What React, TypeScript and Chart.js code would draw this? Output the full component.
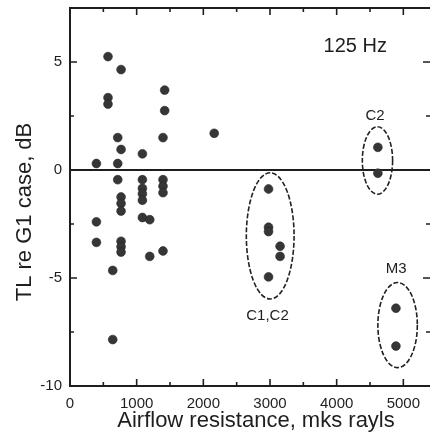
import React, { useEffect, useRef } from 'react';
import { Chart, registerables } from 'chart.js';

Chart.register(...registerables);

// ---- data (x: airflow resistance in mks rayls, y: TL re G1 case in dB) ----
const mainX = [570, 766, 570, 570, 1420, 1420, 716, 1395, 766, 1086, 396, 716, 2163,
  716, 1086, 1086, 1086, 1086, 1395, 1395, 1395, 766, 766, 766, 1086, 1196, 396, 396,
  766, 766, 766, 1196, 1395, 641, 641];
const mainY = [5.25, 4.65, 3.35, 3.05, 3.7, 2.75, 1.5, 1.5, 0.95, 0.75, 0.3, 0.3, 1.7,
  -0.45, -0.45, -0.85, -1.1, -1.4, -0.45, -0.75, -1.05, -1.25, -1.55, -1.9, -2.2, -2.3, -2.4, -3.35,
  -3.3, -3.55, -3.8, -4.0, -3.75, -4.65, -7.85];

const c1c2X = [2978, 2978, 2978, 3151, 3151, 2978];
const c1c2Y = [-0.88, -2.65, -2.85, -3.53, -4.0, -4.95];

const c2X = [4618, 4618];
const c2Y = [1.05, -0.15];

const m3X = [4889, 4889];
const m3Y = [-6.4, -8.15];

// dashed ellipses around groups (centre and radii in data units)
const ellipseCx = [3003, 4612, 4914];
const ellipseCy = [-3.05, 0.44, -7.18];
const ellipseRx = [358, 227, 296];
const ellipseRy = [2.92, 1.56, 1.97];

// annotation labels (anchored in data units)
const labelTexts = ['125 Hz', 'C2', 'C1,C2', 'M3'];
const labelX = [4279, 4575, 2963, 4893];
const labelY = [5.48, 2.31, -6.94, -4.78];
const labelSizes = [20, 15, 15, 15];

// axis ticks
const xTickValues = [0, 500, 1000, 1500, 2000, 2500, 3000, 3500, 4000, 4500, 5000];
const xTickLabels = ['0', '', '1000', '', '2000', '', '3000', '', '4000', '', '5000'];
const yTickValues = [-10, -7.5, -5, -2.5, 0, 2.5, 5];
const yTickLabels = ['-10', '', '-5', '', '0', '', '5'];

const xTitle = 'Airflow resistance, mks rayls';
const yTitle = 'TL re G1 case, dB';

const X_MIN = 0;
const X_MAX = 5400;
const Y_MIN = -10;
const Y_MAX = 7.5;

const FONT = "'Liberation Sans', Arial, Helvetica, sans-serif";
const INK = '#1e1e1e';
const DOT = '#363636';

const toPts = (xs: number[], ys: number[]) => xs.map((x, i) => ({ x, y: ys[i] }));

const decorPlugin = {
  id: 'decor',
  beforeDatasetsDraw(chart: any) {
    const { ctx, chartArea, scales } = chart;
    const y0 = scales.y.getPixelForValue(0);
    ctx.save();
    ctx.strokeStyle = INK;
    ctx.lineWidth = 2;
    ctx.beginPath();
    ctx.moveTo(chartArea.left, y0);
    ctx.lineTo(chartArea.right, y0);
    ctx.stroke();

    // dashed ellipses
    ctx.strokeStyle = '#222';
    ctx.lineWidth = 1.6;
    ctx.setLineDash([5, 2]);
    for (let i = 0; i < ellipseCx.length; i++) {
      const cx = scales.x.getPixelForValue(ellipseCx[i]);
      const cy = scales.y.getPixelForValue(ellipseCy[i]);
      const rx = Math.abs(scales.x.getPixelForValue(ellipseCx[i] + ellipseRx[i]) - cx);
      const ry = Math.abs(scales.y.getPixelForValue(ellipseCy[i] + ellipseRy[i]) - cy);
      ctx.beginPath();
      ctx.ellipse(cx, cy, rx, ry, 0, 0, Math.PI * 2);
      ctx.stroke();
    }
    ctx.restore();
  },
  afterDraw(chart: any) {
    const { ctx, chartArea, scales } = chart;
    const { left, right, top, bottom } = chartArea;
    ctx.save();
    ctx.strokeStyle = INK;
    ctx.lineWidth = 2;
    ctx.setLineDash([]);
    ctx.beginPath();
    ctx.moveTo(left, top);
    ctx.lineTo(right, top);
    ctx.moveTo(left, top - 1);
    ctx.lineTo(left, bottom + 1);
    ctx.moveTo(left, bottom);
    ctx.lineTo(right, bottom);
    ctx.stroke();

    // inward tick marks
    ctx.lineWidth = 1.6;
    ctx.beginPath();
    for (const t of scales.x.ticks) {
      if (t.value <= X_MIN) continue;
      const px = scales.x.getPixelForValue(t.value);
      const len = t.value % 1000 === 0 ? 7 : 4;
      ctx.moveTo(px, bottom);
      ctx.lineTo(px, bottom - len);
      ctx.moveTo(px, top);
      ctx.lineTo(px, top + len);
    }
    for (const t of scales.y.ticks) {
      if (t.value <= Y_MIN || t.value >= Y_MAX) continue;
      const py = scales.y.getPixelForValue(t.value);
      const len = t.value % 5 === 0 ? 7 : 4;
      ctx.moveTo(left, py);
      ctx.lineTo(left + len, py);
      ctx.moveTo(right, py);
      ctx.lineTo(right - len, py);
    }
    ctx.stroke();

    // annotation labels
    ctx.fillStyle = INK;
    ctx.textAlign = 'center';
    ctx.textBaseline = 'alphabetic';
    for (let i = 0; i < labelTexts.length; i++) {
      ctx.font = `${labelSizes[i]}px ${FONT}`;
      ctx.fillText(
        labelTexts[i],
        scales.x.getPixelForValue(labelX[i]),
        scales.y.getPixelForValue(labelY[i])
      );
    }

    // axis titles
    ctx.font = `22px ${FONT}`;
    ctx.fillText(xTitle, 256, 427);
    ctx.save();
    ctx.translate(31, 212);
    ctx.rotate(-Math.PI / 2);
    ctx.fillText(yTitle, 0, 0);
    ctx.restore();
    ctx.restore();
  },
};

export default function App() {
  const ref = useRef<HTMLCanvasElement | null>(null);

  useEffect(() => {
    document.body.style.margin = '0';
    const canvas = ref.current;
    if (!canvas) return;
    const pointStyle = {
      backgroundColor: DOT,
      borderColor: '#262626',
      borderWidth: 0.6,
      pointRadius: 4.4,
      pointHoverRadius: 4.4,
    };
    const chart = new Chart(canvas, {
      type: 'scatter',
      data: {
        datasets: [
          { label: 'Main', data: toPts(mainX, mainY), ...pointStyle },
          { label: 'C1,C2', data: toPts(c1c2X, c1c2Y), ...pointStyle },
          { label: 'C2', data: toPts(c2X, c2Y), ...pointStyle },
          { label: 'M3', data: toPts(m3X, m3Y), ...pointStyle },
        ],
      },
      options: {
        animation: false,
        responsive: false,
        devicePixelRatio: 1,
        layout: { padding: { left: 0, top: 8, right: 0, bottom: 0 } },
        plugins: {
          legend: { display: false },
          tooltip: { enabled: false },
        },
        scales: {
          x: {
            type: 'linear',
            min: X_MIN,
            max: X_MAX,
            afterBuildTicks: (s: any) => { s.ticks = xTickValues.map((value) => ({ value })); },
            afterFit: (s: any) => {
              s.height = 48;
              s.paddingLeft = 0;
              s.paddingRight = 0;
            },
            grid: { display: false, drawTicks: false },
            border: { display: false },
            ticks: {
              autoSkip: false,
              maxRotation: 0,
              minRotation: 0,
              padding: 9,
              color: INK,
              font: { family: FONT, size: 15 },
              callback: (_v: any, i: number) => xTickLabels[i],
            },
          },
          y: {
            type: 'linear',
            min: Y_MIN,
            max: Y_MAX,
            afterBuildTicks: (s: any) => { s.ticks = yTickValues.map((value) => ({ value })); },
            afterFit: (s: any) => {
              s.width = 70;
              s.paddingTop = 0;
              s.paddingBottom = 0;
            },
            grid: { display: false, drawTicks: false },
            border: { display: false },
            ticks: {
              autoSkip: false,
              padding: 8,
              color: INK,
              font: { family: FONT, size: 15 },
              callback: (_v: any, i: number) => yTickLabels[i],
            },
          },
        },
      },
      plugins: [decorPlugin],
    });
    return () => chart.destroy();
  }, []);

  return (
    <div style={{ width: 435, height: 434, background: '#fff' }}>
      <canvas ref={ref} width={435} height={434} style={{ display: 'block' }} />
    </div>
  );
}
